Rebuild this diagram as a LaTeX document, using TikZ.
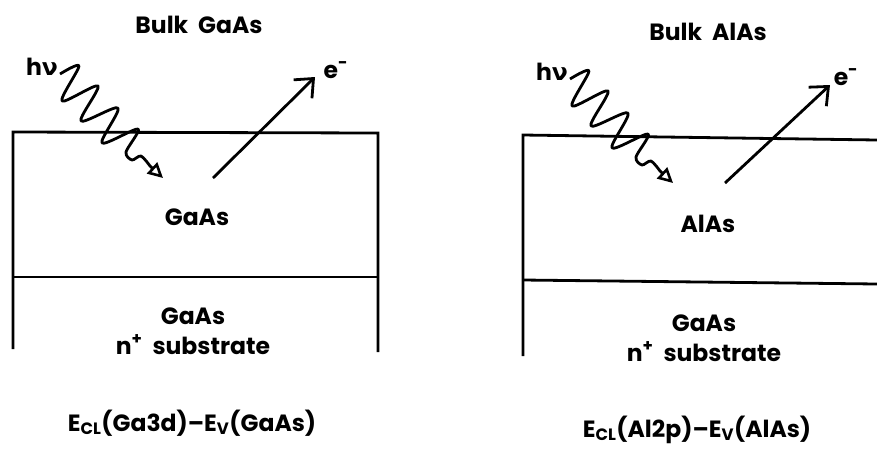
\documentclass[tikz,border=0pt]{standalone}
\usepackage{fontspec}
\setmainfont{Poppins}
\newfontfamily\grk{DejaVu Sans}
\usetikzlibrary{arrows.meta}
\begin{document}
\begin{tikzpicture}[x=1pt,y=-1pt, line width=2.8pt,
  lbl/.style={font=\bfseries\fontsize{23.5}{26}\selectfont, inner sep=0pt, anchor=base},
  wave/.style={line width=2.8pt, line join=round, -{Triangle[open,length=15pt,width=15pt,line width=2.6pt]}},
  emit/.style={line width=2.8pt, -{Straight Barb[length=15pt,width=26pt,line width=2.8pt]}}]
\useasboundingbox (0,0) rectangle (877,448);
% left sample
\draw (13,349) -- (13,132) -- (378,133) -- (378,352);
\draw (12,277) -- (378,277);
% right sample
\draw (523,356) -- (523,135) -- (877,140);
\draw (523,280) -- (877,284);
% labels left
\node[lbl] (t1) at (199,33) {Bulk\ \ GaAs};
\node[lbl] (hv1) at (42,75) {h{\grk ν}};
\node[lbl] (e1) at (336,78) {e\textsuperscript{-}};
\node[lbl] (m1) at (197,225) {GaAs};
\node[lbl] (s1) at (193,324) {GaAs};
\node[lbl] (n1) at (193,354) {n\textsuperscript{+}\ \ substrate};
\node[lbl] (f1) at (192,431) {E\textsubscript{CL}(Ga3d)–E\textsubscript{V}(GaAs)};
% labels right
\node[lbl] (t2) at (708,40) {Bulk\ \ AlAs};
\node[lbl] (hv2) at (552,80) {h{\grk ν}};
\node[lbl] (e2) at (846,85) {e\textsuperscript{-}};
\node[lbl] (m2) at (708,232) {AlAs};
\node[lbl] (s2) at (704,331) {GaAs};
\node[lbl] (n2) at (704,361) {n\textsuperscript{+}\ \ substrate};
\node[lbl] (f2) at (697,437) {E\textsubscript{CL}(Al2p)–E\textsubscript{V}(AlAs)};
% photons
\coordinate (p1) at (163,178);
\coordinate (p2) at (673,183);
\draw[wave] plot[smooth, tension=0.5] coordinates {(60,74) (79,66) (62,101) (98,86) (81,121) (118,108) (102,143) (138,129) (126,152) (132,160) (141,156) (150,166)} -- (p1);
\draw[wave] plot[smooth, tension=0.5] coordinates {(570,79) (589,71) (572,106) (608,91) (591,126) (628,113) (612,148) (648,134) (636,157) (642,165) (651,161) (660,171)} -- (p2);
% photoelectrons
\coordinate (a1) at (213,178);
\coordinate (b1) at (315,77);
\coordinate (a2) at (725,183);
\coordinate (b2) at (830,85);
\draw[emit] (a1) -- (b1);
\draw[emit] (a2) -- (b2);
\end{tikzpicture}
\end{document}
